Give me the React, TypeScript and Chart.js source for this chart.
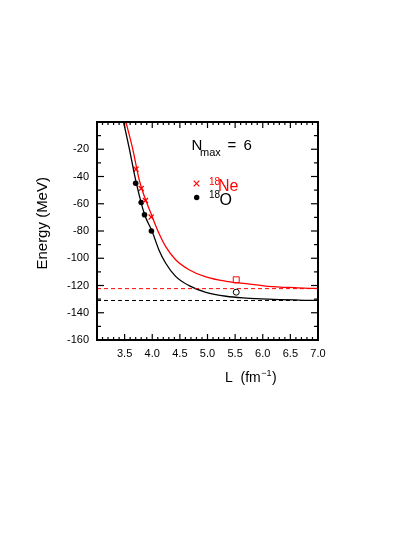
import React, { useEffect, useRef } from "react";
import { Chart, registerables } from "chart.js";

Chart.register(...registerables);

const FONT = '"Liberation Sans", Arial, Helvetica, sans-serif';
const RED = "#ff0000";
const BLACK = "#000000";

// Axis ranges / ticks
const xMin = 3.0;
const xMax = 7.0;
const yMin = -160;
const yMax = 0;
const xMajorStep = 0.5;
const yMajorStep = 20;

// Fitted curves
const oCurveL = [3.48, 3.584, 3.706, 3.863, 4.0, 4.119, 4.241, 4.423, 4.666, 4.971, 5.336, 5.701, 6.097, 6.582, 6.978, 7.0];
const oCurveE = [0, -19.3, -43.7, -68.1, -80.5, -93.7, -103.5, -113.3, -120.1, -125.0, -127.9, -129.2, -130.0, -130.6, -130.9, -130.9];

const neCurveL = [3.524, 3.644, 3.772, 3.998, 4.119, 4.241, 4.423, 4.666, 4.971, 5.336, 5.701, 6.097, 6.577, 6.978, 7.0];
const neCurveE = [0, -19.3, -43.7, -69.3, -81.5, -91.3, -101.1, -108.4, -113.7, -116.9, -118.6, -120.6, -121.6, -122.1, -122.1];

// Calculated points
const neL = [3.706, 3.8, 3.876, 3.98];
const neE = [-34.6, -48.8, -57.6, -69.8];
const oL = [3.7, 3.8, 3.86, 3.985];
const oE = [-44.9, -59.1, -68.1, -80.0];

// Extrapolated single points
const neSquareL = [5.52];
const neSquareE = [-115.8];
const oCircleL = [5.52];
const oCircleE = [-124.9];

// Asymptotes (dashed)
const neInf = -122.3;
const oInf = -131.0;

const pts = (xs: number[], ys: number[]) => xs.map((x, i) => ({ x, y: ys[i] }));

const decorPlugin = {
  id: "decor",
  afterDatasetsDraw(chart: any) {
    const { ctx, chartArea: a } = chart;
    const xs = chart.scales.x;
    const ys = chart.scales.y;
    ctx.save();
    ctx.strokeStyle = BLACK;
    ctx.lineWidth = 1.2;
    const line = (x1: number, y1: number, x2: number, y2: number) => {
      ctx.beginPath();
      ctx.moveTo(x1, y1);
      ctx.lineTo(x2, y2);
      ctx.stroke();
    };
    // x ticks: minor every 0.1, major every 0.5
    const nx = Math.round((xMax - xMin) / 0.1);
    for (let i = 0; i <= nx; i++) {
      const v = xMin + i * 0.1;
      const px = xs.getPixelForValue(v);
      const len = i % Math.round(xMajorStep / 0.1) === 0 ? 6 : 3;
      line(px, a.bottom, px, a.bottom - len);
      line(px, a.top, px, a.top + len);
    }
    // y ticks: minor every 10, major every 20
    for (let v = yMin; v <= yMax; v += 10) {
      const py = ys.getPixelForValue(v);
      const len = v % yMajorStep === 0 ? 7 : 4;
      line(a.left, py, a.left + len, py);
      line(a.right, py, a.right - len, py);
    }
    ctx.lineWidth = 2;
    ctx.strokeRect(a.left, a.top, a.right - a.left, a.bottom - a.top);

    // Texts
    ctx.textAlign = "left";
    ctx.textBaseline = "alphabetic";
    ctx.fillStyle = BLACK;
    ctx.font = `15px ${FONT}`;
    ctx.fillText("N", 183.5, 142);
    ctx.font = `11px ${FONT}`;
    ctx.fillText("max", 192, 147.5);
    ctx.font = `15px ${FONT}`;
    ctx.fillText("=", 219.5, 142);
    ctx.fillText("6", 235.5, 142);

    // legend: 18Ne
    ctx.strokeStyle = RED;
    ctx.lineWidth = 1.2;
    const cx = 188.5, cy = 175.5, h = 2.8;
    line(cx - h, cy - h, cx + h, cy + h);
    line(cx - h, cy + h, cx + h, cy - h);
    ctx.fillStyle = RED;
    ctx.font = `10px ${FONT}`;
    ctx.fillText("18", 201, 176.5);
    ctx.font = `16px ${FONT}`;
    ctx.fillText("Ne", 210, 182.8);

    // legend: 18O
    ctx.fillStyle = BLACK;
    ctx.beginPath();
    ctx.arc(188.7, 189.5, 2.7, 0, Math.PI * 2);
    ctx.fill();
    ctx.font = `10px ${FONT}`;
    ctx.fillText("18", 201, 189.5);
    ctx.font = `16px ${FONT}`;
    ctx.fillText("O", 211.5, 197);

    // x title
    ctx.font = `14px ${FONT}`;
    let tx = 217;
    const base = 373.7;
    ctx.fillText("L  (fm", tx, base);
    tx += ctx.measureText("L  (fm").width;
    ctx.font = `9px ${FONT}`;
    ctx.fillText("\u22121", tx + 0.5, base - 6);
    tx += ctx.measureText("\u22121").width + 1;
    ctx.font = `14px ${FONT}`;
    ctx.fillText(")", tx, base);

    // y title
    ctx.save();
    ctx.translate(35.3, 215.3);
    ctx.rotate(-Math.PI / 2);
    ctx.textAlign = "center";
    ctx.textBaseline = "middle";
    ctx.font = `15px ${FONT}`;
    ctx.fillText("Energy (MeV)", 0, 0);
    ctx.restore();

    ctx.restore();
  },
};

export default function App() {
  const ref = useRef<HTMLCanvasElement | null>(null);
  useEffect(() => {
    if (!ref.current) return;
    const chart = new Chart(ref.current, {
      type: "scatter",
      data: {
        datasets: [
          {
            data: pts([xMin, xMax], [neInf, neInf]),
            showLine: true,
            borderColor: RED,
            borderWidth: 1,
            borderDash: [4, 3],
            pointRadius: 0,
          },
          {
            data: pts([xMin, xMax], [oInf, oInf]),
            showLine: true,
            borderColor: BLACK,
            borderWidth: 1,
            borderDash: [4, 3],
            pointRadius: 0,
          },
          {
            data: pts(oCurveL, oCurveE),
            showLine: true,
            borderColor: BLACK,
            borderWidth: 1.3,
            pointRadius: 0,
            cubicInterpolationMode: "monotone",
          },
          {
            data: pts(neCurveL, neCurveE),
            showLine: true,
            borderColor: RED,
            borderWidth: 1.3,
            pointRadius: 0,
            cubicInterpolationMode: "monotone",
          },
          {
            data: pts(neL, neE),
            pointStyle: "crossRot",
            pointRadius: 3.6,
            borderColor: RED,
            borderWidth: 1.3,
            backgroundColor: RED,
          },
          {
            data: pts(oL, oE),
            pointStyle: "circle",
            pointRadius: 2.8,
            borderWidth: 0,
            backgroundColor: BLACK,
          },
          {
            data: pts(neSquareL, neSquareE),
            pointStyle: "rect",
            pointRadius: 4.2,
            borderColor: RED,
            borderWidth: 1,
            backgroundColor: "rgba(0,0,0,0)",
          },
          {
            data: pts(oCircleL, oCircleE),
            pointStyle: "circle",
            pointRadius: 3,
            borderColor: BLACK,
            borderWidth: 1,
            backgroundColor: "rgba(0,0,0,0)",
          },
        ],
      },
      options: {
        animation: false,
        responsive: false,
        events: [],
        layout: { padding: { left: 0, right: 89, top: 114, bottom: 0 } },
        plugins: { legend: { display: false }, tooltip: { enabled: false } },
        scales: {
          x: {
            type: "linear",
            min: xMin,
            max: xMax,
            afterFit: (s: any) => {
              s.height = 189;
            },
            grid: { display: false, drawTicks: false },
            border: { display: false },
            ticks: {
              stepSize: xMajorStep,
              autoSkip: false,
              maxRotation: 0,
              padding: 7,
              color: BLACK,
              font: { family: FONT, size: 11 },
              callback: (v: any) => (Number(v) < 3.25 ? "" : Number(v).toFixed(1)),
            },
          },
          y: {
            type: "linear",
            min: yMin,
            max: yMax,
            afterFit: (s: any) => {
              s.width = 89;
            },
            grid: { display: false, drawTicks: false },
            border: { display: false },
            ticks: {
              stepSize: yMajorStep,
              autoSkip: false,
              padding: 8,
              color: BLACK,
              font: { family: FONT, size: 11 },
              callback: (v: any) => (Number(v) === 0 ? "" : String(v)),
            },
          },
        },
      },
      plugins: [decorPlugin],
    } as any);
    return () => chart.destroy();
  }, []);
  return (
    <div style={{ width: 399, height: 521 }}>
      <canvas ref={ref} width={399} height={521} style={{ display: "block" }} />
    </div>
  );
}
